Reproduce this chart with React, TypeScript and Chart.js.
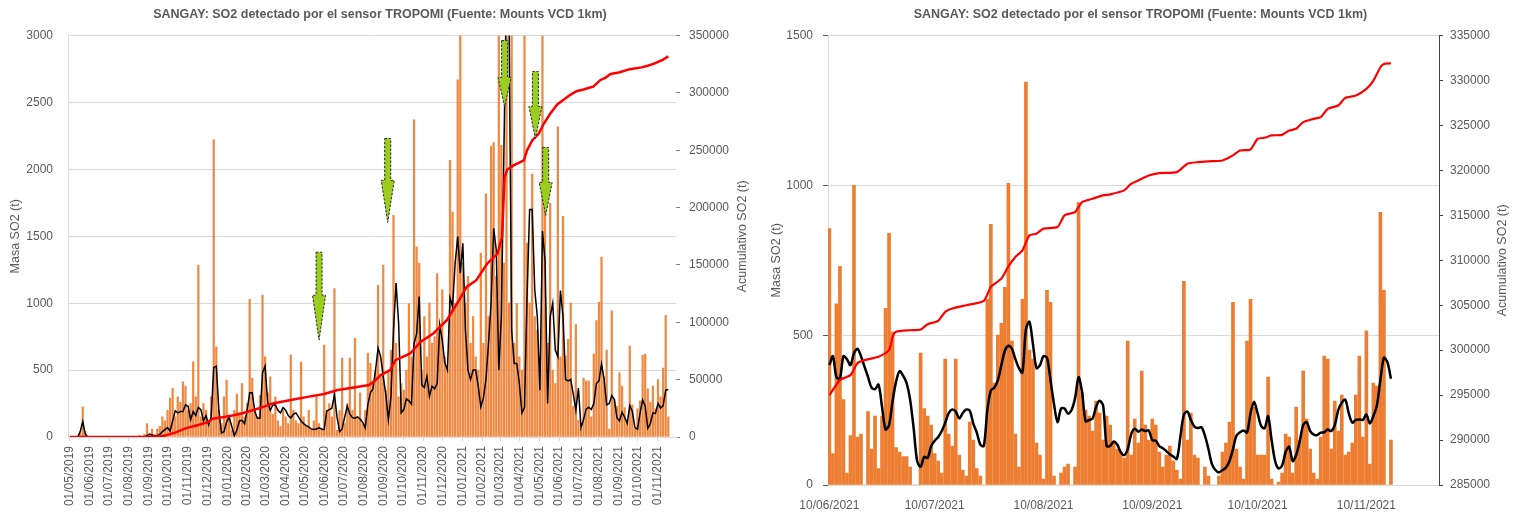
import React, { useEffect, useRef } from 'react';
import { Chart, registerables } from 'chart.js';

Chart.register(...registerables);

// ---------------- shared text ----------------
const TITLE = 'SANGAY: SO2 detectado por el sensor TROPOMI (Fuente: Mounts VCD 1km)';
const LEFT_AXIS_TITLE = 'Masa SO2 (t)';
const RIGHT_AXIS_TITLE = 'Acumulativo SO2 (t)';

// ---------------- left chart data (01/05/2019 - 17/11/2021) ----------------
const LEFT_START = '01/05/2019';
const LEFT_STEP_DAYS = 4; // one sample every 4 days
const leftTickLabels = [
  '01/05/2019', '01/06/2019', '01/07/2019', '01/08/2019', '01/09/2019', '01/10/2019', '01/11/2019', '01/12/2019',
  '01/01/2020', '01/02/2020', '01/03/2020', '01/04/2020', '01/05/2020', '01/06/2020', '01/07/2020', '01/08/2020',
  '01/09/2020', '01/10/2020', '01/11/2020', '01/12/2020', '01/01/2021', '01/02/2021', '01/03/2021', '01/04/2021',
  '01/05/2021', '01/06/2021', '01/07/2021', '01/08/2021', '01/09/2021', '01/10/2021', '01/11/2021',
];
// daily SO2 mass (t)
const leftMass = [
  0, 0, 0, 0, 30, 225, 40, 0, 0, 0,
  0, 0, 0, 0, 0, 0, 0, 0, 0, 0,
  0, 5, 0, 0, 0, 0, 5, 10, 0, 20,
  100, 30, 60, 20, 60, 80, 150, 120, 200, 290,
  363, 150, 300, 260, 413, 380, 200, 250, 562, 300,
  1284, 150, 250, 200, 120, 300, 2221, 674, 200, 100,
  300, 425, 150, 50, 200, 320, 180, 400, 150, 250,
  1028, 440, 200, 150, 310, 1060, 600, 330, 450, 170,
  300, 120, 80, 200, 150, 100, 612, 200, 120, 100,
  560, 150, 80, 200, 50, 120, 300, 100, 60, 687,
  200, 250, 150, 1110, 50, 200, 590, 100, 250, 590,
  200, 738, 150, 330, 100, 200, 627, 550, 400, 500,
  1134, 450, 1284, 350, 500, 650, 1657, 700, 300, 400,
  350, 500, 998, 600, 2371, 1420, 1300, 500, 900, 600,
  1000, 700, 750, 1222, 800, 1100, 600, 500, 2067, 1681,
  1000, 2670, 3000, 1300, 1000, 1200, 700, 900, 600, 500,
  1373, 700, 1818, 900, 2174, 2200, 1200, 3000, 2179, 1300,
  3000, 1000, 3000, 700, 998, 600, 500, 3000, 1450, 1000,
  1965, 900, 800, 600, 3000, 2015, 700, 1746, 500, 400,
  2318, 600, 1650, 605, 730, 1000, 230, 840, 125, 60,
  440, 420, 420, 150, 620, 870, 1007, 1345, 450, 650,
  60, 943, 280, 230, 480, 380, 220, 130, 680, 240,
  60, 210, 270, 610, 620, 360, 260, 380, 210, 430,
  300, 515, 910, 150,
];
// running mean (t)
const leftAvg = [
  0, 0, 0, 0, 40, 115, 20, 0, 0, 0,
  0, 0, 0, 0, 0, 0, 0, 0, 0, 0,
  0, 0, 0, 0, 0, 0, 0, 0, 0, 0,
  10, 20, 15, 5, 10, 20, 40, 55, 70, 45,
  120, 195, 180, 190, 190, 240, 230, 130, 190, 160,
  220, 205, 120, 160, 90, 150, 520, 530, 200, 30,
  40, 110, 150, 80, 10, 50, 120, 125, 100, 200,
  330, 330, 190, 140, 140, 480, 530, 260, 200, 240,
  240, 200, 180, 220, 200, 160, 143, 170, 180, 150,
  119, 100, 85, 75, 60, 56, 60, 68, 60, 56,
  195, 205, 215, 317, 150, 40, 60, 150, 230, 170,
  145, 140, 150, 135, 110, 68, 240, 330, 360, 500,
  664, 600, 450, 320, 130, 300, 800, 1150, 850, 180,
  205, 285, 270, 245, 700, 770, 1050, 390, 370, 453,
  304, 380, 360, 400, 838, 720, 553, 500, 1040, 975,
  1299, 1498, 1224, 1448, 802, 500, 430, 500, 500, 380,
  226, 290, 430, 700, 1000, 1560, 1400, 500, 900, 2150,
  3400, 3100, 800, 550, 550, 400, 180, 220, 1050, 1700,
  1700, 1100, 900, 350, 1540, 1320, 250, 900, 1000, 650,
  600, 1095, 900, 430, 420, 430, 320, 200, 365, 70,
  130, 208, 222, 205, 250, 400, 420, 545, 430, 240,
  250, 310, 281, 145, 120, 185, 148, 103, 235, 190,
  70, 58, 176, 278, 230, 65, 100, 180, 176, 250,
  217, 235, 350, 355,
];
// cumulative SO2 (t): day offsets from 01/05/2019 and values
const leftCumDays = [
  0, 120, 140, 150, 165, 180, 200, 215, 222, 240, 255, 270, 286, 300, 316, 344, 370, 396, 417, 440,
  466, 475, 484, 499, 507, 530, 546, 566, 587, 603, 618, 633, 650, 666, 673, 677, 681, 691, 707, 712,
  720, 730, 738, 748, 759, 771, 780, 789, 800, 810, 815, 822, 826, 835, 842, 855, 872, 890, 900, 910,
  924, 932,
];
const leftCum = [
  0, 0, 500, 1500, 4000, 7500, 10500, 13000, 16000, 17500, 19000, 21000, 23500, 26000, 29300, 32200, 35000, 37440, 40920, 43000,
  45270, 49000, 53980, 58330, 67040, 72840, 82980, 90240, 101860, 116400, 130860, 136690, 151200, 159900, 174400, 226600, 233000, 236800, 241200, 249900,
  258600, 264400, 273100, 281800, 290000, 295000, 298600, 301480, 303000, 304800, 305500, 309000, 311110, 313600, 316480, 317800, 320740, 322300, 323700, 325600,
  329070, 331920,
];
// highlighted events (arrows)
const arrowDates = ['23/05/2020', '07/09/2020', '08/03/2021', '25/04/2021', '11/05/2021'];
const arrowTop = [1381, 2231, 2963, 2731, 2164];
const arrowNeck = [1060, 1918, 2687, 2470, 1903];
const arrowTip = [724, 1604, 2470, 2231, 1657];

// ---------------- right chart data (10/06/2021 - 17/11/2021, daily) ----------------
const RIGHT_START = '10/06/2021';
const rightTickLabels = ['10/06/2021', '10/07/2021', '10/08/2021', '10/09/2021', '10/10/2021', '10/11/2021'];
const rightMass = [
  856, 105, 605, 730, 285, 40, 165, 1000, 160, 170,
  0, 245, 120, 230, 55, 230, 590, 840, 510, 125,
  110, 95, 95, 60, 0, 0, 440, 255, 230, 200,
  105, 80, 40, 420, 170, 130, 420, 100, 50, 30,
  210, 150, 55, 30, 0, 620, 870, 340, 500, 540,
  660, 1007, 480, 170, 60, 620, 1345, 450, 420, 140,
  100, 20, 650, 610, 30, 0, 40, 60, 70, 0,
  60, 943, 310, 250, 230, 180, 280, 240, 150, 230,
  200, 140, 120, 110, 90, 480, 100, 220, 140, 380,
  200, 150, 220, 200, 110, 60, 100, 130, 80, 50,
  20, 680, 150, 240, 100, 90, 0, 60, 30, 0,
  0, 30, 110, 140, 210, 610, 120, 60, 20, 480,
  620, 260, 100, 100, 100, 360, 20, 0, 10, 40,
  170, 160, 40, 260, 150, 380, 220, 120, 40, 20,
  160, 430, 420, 120, 280, 180, 300, 100, 110, 140,
  300, 430, 160, 515, 70, 340, 330, 910, 650, 0,
  150,
];
const rightAvg = [
  400, 430, 360, 355, 430, 420, 400, 440, 455, 430,
  395, 361, 325, 320, 335, 260, 185, 200, 280, 345,
  380, 365, 340, 285, 190, 80, 61, 94, 90, 130,
  148, 160, 180, 208, 240, 252, 245, 222, 240, 252,
  248, 205, 175, 135, 130, 250, 315, 325, 350, 400,
  448, 465, 455, 420, 390, 375, 520, 545, 470, 390,
  400, 430, 425, 350, 270, 210, 255, 255, 238, 250,
  290, 360, 310, 213, 217, 222, 261, 281, 265, 130,
  130, 145, 135, 110, 100, 120, 170, 188, 178, 185,
  180, 182, 150, 148, 130, 123, 113, 103, 95, 87,
  160, 235, 245, 217, 195, 190, 193, 165, 120, 70,
  50, 42, 50, 58, 80, 120, 165, 176, 182, 175,
  240, 278, 240, 198, 189, 230, 150, 80, 55, 65,
  110, 128, 80, 100, 145, 200, 210, 180, 168, 167,
  175, 176, 185, 180, 200, 250, 275, 285, 239, 208,
  217, 219, 217, 235, 205, 230, 265, 350, 425, 410,
  355,
];
const rightCumDays = [
  0, 3, 6, 8, 10, 14, 17, 18, 19, 23, 26, 28, 31, 33, 35, 39, 44, 46, 49, 51,
  53, 55, 57, 59, 61, 65, 67, 70, 72, 75, 78, 80, 84, 86, 88, 91, 94, 99, 102, 105,
  109, 112, 115, 117, 120, 122, 124, 126, 129, 131, 133, 135, 138, 140, 142, 145, 147, 150, 153, 155,
  157, 158, 160,
];
const rightCum = [
  295000, 296670, 297220, 298550, 298890, 299260, 300000, 301480, 302040, 302220, 302300, 302890, 303260, 304260, 304630, 305000, 305480, 307040, 307960, 309330,
  310370, 311110, 312780, 312960, 313520, 313700, 315000, 315370, 316480, 316850, 317220, 317330, 317780, 318520, 318890, 319440, 319700, 319810, 320740, 320920,
  321030, 321110, 321670, 322220, 322330, 323520, 323630, 323890, 323960, 324440, 324630, 325370, 325740, 325930, 326850, 327220, 328070, 328330, 329070, 330000,
  331480, 331850, 331920,
];

// ---------------- helpers ----------------
const DAY_MS = 86400000;
const parseDMY = (s: string) => {
  const [d, m, y] = s.split('/').map(Number);
  return Date.UTC(y, m - 1, d);
};
const daysFrom = (start: string, s: string) => Math.round((parseDMY(s) - parseDMY(start)) / DAY_MS);

const FONT = 'Liberation Sans';
const TEXT = '#595959';
const GRID = '#d9d9d9';
const ORANGE = '#ED7D31';

const axisTitlePlugin = {
  id: 'axisTitles',
  afterDraw(chart: any, _args: any, opts: any) {
    const { ctx, chartArea } = chart;
    const cy = (chartArea.top + chartArea.bottom) / 2;
    ctx.save();
    ctx.fillStyle = TEXT;
    ctx.font = `12.5px "${FONT}"`;
    ctx.textAlign = 'center';
    ctx.textBaseline = 'middle';
    const items: [number, string][] = [
      [opts.leftX, LEFT_AXIS_TITLE],
      [opts.rightX, RIGHT_AXIS_TITLE],
    ];
    items.forEach(([x, t]) => {
      ctx.save();
      ctx.translate(x, cy);
      ctx.rotate(-Math.PI / 2);
      ctx.fillText(t, 0, 0);
      ctx.restore();
    });
    ctx.restore();
  },
};

const arrowPlugin = {
  id: 'eventArrows',
  afterDatasetsDraw(chart: any) {
    const { ctx, scales } = chart;
    const x = scales.x;
    const y = scales.y;
    ctx.save();
    arrowDates.forEach((d, i) => {
      const cx = x.getPixelForValue(daysFrom(LEFT_START, d));
      const yt = y.getPixelForValue(arrowTop[i]);
      const yn = y.getPixelForValue(arrowNeck[i]);
      const yp = y.getPixelForValue(arrowTip[i]);
      const sw = 3;
      const hw = 6.5;
      ctx.beginPath();
      ctx.moveTo(cx - sw, yt);
      ctx.lineTo(cx + sw, yt);
      ctx.lineTo(cx + sw, yn);
      ctx.lineTo(cx + hw, yn);
      ctx.lineTo(cx, yp);
      ctx.lineTo(cx - hw, yn);
      ctx.lineTo(cx - sw, yn);
      ctx.closePath();
      ctx.fillStyle = '#9ACD1E';
      ctx.fill();
      ctx.setLineDash([2.5, 1.5]);
      ctx.lineWidth = 1;
      ctx.strokeStyle = '#2b2b2b';
      ctx.stroke();
    });
    ctx.restore();
  },
};

const tickFont = { family: FONT, size: 12 };
const plainNumber = (v: any) => String(v);

function titleOptions() {
  return {
    display: true,
    text: TITLE,
    color: TEXT,
    font: { family: FONT, size: 12.5, weight: 'bold' as const },
    padding: { top: 7, bottom: 13.6 },
  };
}

function leftConfig(): any {
  const tickDays = leftTickLabels.map((l) => daysFrom(LEFT_START, l));
  return {
    type: 'bar',
    data: {
      datasets: [
        {
          type: 'line',
          data: leftCumDays.map((d, i) => ({ x: d, y: leftCum[i] })),
          borderColor: '#FF0000',
          borderWidth: 2.5,
          pointRadius: 0,
          yAxisID: 'y2',
          order: 1,
        },
        {
          type: 'line',
          data: leftAvg.map((v, i) => ({ x: i * LEFT_STEP_DAYS, y: v })),
          borderColor: '#000000',
          borderWidth: 1.5,
          pointRadius: 0,
          yAxisID: 'y',
          order: 2,
        },
        {
          type: 'bar',
          data: leftMass.map((v, i) => ({ x: i * LEFT_STEP_DAYS, y: v })),
          backgroundColor: 'rgba(237,125,49,0.9)',
          barThickness: 1.6,
          yAxisID: 'y',
          order: 3,
        },
      ],
    },
    options: {
      responsive: false,
      animation: false,
      devicePixelRatio: 1,
      layout: { padding: 0 },
      plugins: {
        legend: { display: false },
        tooltip: { enabled: false },
        title: titleOptions(),
        axisTitles: { leftX: 16, rightX: 743 },
      },
      scales: {
        x: {
          type: 'linear',
          min: -3,
          max: 944,
          offset: false,
          bounds: 'data',
          afterBuildTicks: (s: any) => {
            s.ticks = tickDays.map((v) => ({ value: v }));
          },
          afterFit: (s: any) => {
            s.height = 79;
          },
          ticks: {
            autoSkip: false,
            minRotation: 90,
            maxRotation: 90,
            padding: 5,
            color: TEXT,
            font: tickFont,
            callback: (_v: any, i: number) => leftTickLabels[i],
          },
          grid: { offset: false, drawOnChartArea: false, drawTicks: true, tickLength: 4, tickColor: GRID },
          border: { color: GRID },
        },
        y: {
          position: 'left',
          min: 0,
          max: 3000,
          afterFit: (s: any) => {
            s.width = 68;
          },
          ticks: { stepSize: 500, padding: 15, color: TEXT, font: tickFont, callback: plainNumber },
          grid: { color: GRID, drawTicks: false },
          border: { color: GRID },
        },
        y2: {
          position: 'right',
          min: 0,
          max: 350000,
          afterFit: (s: any) => {
            s.width = 84;
          },
          ticks: { stepSize: 50000, padding: 9, color: TEXT, font: tickFont, callback: plainNumber },
          grid: { drawOnChartArea: false, drawTicks: true, tickLength: 4, tickColor: '#7f7f7f' },
          border: { display: false },
        },
      },
    },
    plugins: [axisTitlePlugin, arrowPlugin],
  };
}

function rightConfig(): any {
  const tickDays = rightTickLabels.map((l) => daysFrom(RIGHT_START, l));
  return {
    type: 'bar',
    data: {
      datasets: [
        {
          type: 'line',
          data: rightCumDays.map((d, i) => ({ x: d, y: rightCum[i] })),
          borderColor: '#FF0000',
          borderWidth: 2.2,
          pointRadius: 0,
          tension: 0.2,
          yAxisID: 'y2',
          order: 1,
        },
        {
          type: 'line',
          data: rightAvg.map((v, i) => ({ x: i, y: v })),
          borderColor: '#000000',
          borderWidth: 2.5,
          pointRadius: 0,
          tension: 0.3,
          yAxisID: 'y',
          order: 2,
        },
        {
          type: 'bar',
          data: rightMass.map((v, i) => ({ x: i, y: v })),
          backgroundColor: ORANGE,
          barThickness: 3,
          yAxisID: 'y',
          order: 3,
        },
      ],
    },
    options: {
      responsive: false,
      animation: false,
      devicePixelRatio: 1,
      layout: { padding: 0 },
      plugins: {
        legend: { display: false },
        tooltip: { enabled: false },
        title: titleOptions(),
        axisTitles: { leftX: 17, rightX: 743 },
      },
      scales: {
        x: {
          type: 'linear',
          min: -0.4,
          max: 173.7,
          offset: false,
          bounds: 'data',
          afterBuildTicks: (s: any) => {
            s.ticks = tickDays.map((v) => ({ value: v }));
          },
          afterFit: (s: any) => {
            s.height = 31;
          },
          ticks: {
            autoSkip: false,
            maxRotation: 0,
            minRotation: 0,
            padding: 5,
            color: TEXT,
            font: tickFont,
            callback: (_v: any, i: number) => rightTickLabels[i],
          },
          grid: { offset: false, display: false },
          border: { color: GRID },
        },
        y: {
          position: 'left',
          min: 0,
          max: 1500,
          afterFit: (s: any) => {
            s.width = 68;
          },
          ticks: { stepSize: 500, padding: 10, color: TEXT, font: tickFont, callback: plainNumber },
          grid: { color: GRID, drawTicks: true, tickLength: 5, tickColor: '#595959' },
          border: { color: GRID },
        },
        y2: {
          position: 'right',
          min: 285000,
          max: 335000,
          afterFit: (s: any) => {
            s.width = 82;
          },
          ticks: { stepSize: 5000, padding: 7, color: TEXT, font: tickFont, callback: plainNumber },
          grid: { drawOnChartArea: false, drawTicks: true, tickLength: 4, tickColor: '#404040' },
          border: { color: '#404040' },
        },
      },
    },
    plugins: [axisTitlePlugin],
  };
}

export default function App() {
  const leftRef = useRef<HTMLCanvasElement | null>(null);
  const rightRef = useRef<HTMLCanvasElement | null>(null);

  useEffect(() => {
    const c1 = new Chart(leftRef.current as HTMLCanvasElement, leftConfig());
    const c2 = new Chart(rightRef.current as HTMLCanvasElement, rightConfig());
    return () => {
      c1.destroy();
      c2.destroy();
    };
  }, []);

  return (
    <div
      style={{
        position: 'absolute',
        left: 0,
        top: 0,
        width: 1521,
        height: 516,
        background: '#ffffff',
        overflow: 'hidden',
      }}
    >
      <canvas
        ref={leftRef}
        width={760}
        height={516}
        style={{ position: 'absolute', left: 0, top: 0, width: 760, height: 516 }}
      />
      <canvas
        ref={rightRef}
        width={761}
        height={516}
        style={{ position: 'absolute', left: 760, top: 0, width: 761, height: 516 }}
      />
    </div>
  );
}
